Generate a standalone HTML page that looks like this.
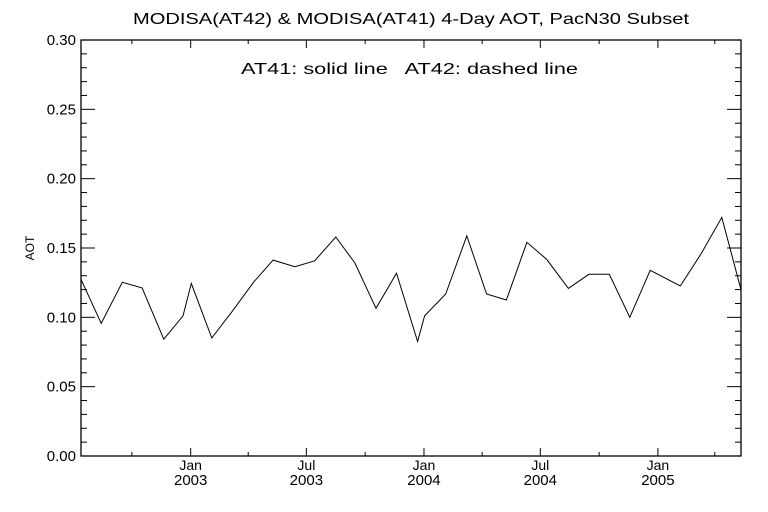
<!DOCTYPE html>
<html><head><meta charset="utf-8"><style>
body{margin:0;background:#fff;}
svg{display:block;font-family:"Liberation Sans",sans-serif;}
</style></head><body>
<svg id="chart" width="768" height="512" viewBox="0 0 768 512">
<rect width="768" height="512" fill="#fff"/>
<text x="133" y="24" font-size="16" textLength="556" lengthAdjust="spacingAndGlyphs">MODISA(AT42) &amp; MODISA(AT41) 4-Day AOT, PacN30 Subset</text>
<text x="241" y="74" font-size="16" textLength="337" lengthAdjust="spacingAndGlyphs" xml:space="preserve">AT41: solid line   AT42: dashed line</text>
<text transform="translate(34,248) rotate(-90)" font-size="12" text-anchor="middle">AOT</text>
<g id="axes"></g>
<g id="series"></g>
</svg>
<script>
const yTicks=[0,0.05,0.10,0.15,0.20,0.25,0.30];
const yTickLabels=["0.00","0.05","0.10","0.15","0.20","0.25","0.30"];
const xTickDays=[0,181,365,547,731];
const xTickMonths=["Jan","Jul","Jan","Jul","Jan"];
const xTickYears=["2003","2003","2004","2004","2005"];
const xMinorDays=[-92,90,273,456,639,820];
const days=[-171.6,-140,-107,-76,-42,-12,1,33,66,99,129,163,194,227,257,290,322,355,366,399,432,463,494,526,557,591,623,655,687,719,766,799,831,861];
const at41=[0.1274,0.0957,0.1253,0.1212,0.0842,0.1010,0.1245,0.0851,0.105,0.1257,0.1413,0.1365,0.1408,0.1579,0.1392,0.1065,0.1318,0.0826,0.1010,0.1168,0.1587,0.1168,0.1125,0.1541,0.1418,0.1209,0.1310,0.1310,0.1000,0.1339,0.1226,0.1462,0.1721,0.120];
const L=81,R=741,T=40,B=456,D0=-171.6,D1=861;
const sx=d=>L+(d-D0)/(D1-D0)*(R-L);
const sy=v=>B-v/0.3*(B-T);
const NS="http://www.w3.org/2000/svg";
const ax=document.getElementById('axes');
function mk(tag,attrs,parent){const e=document.createElementNS(NS,tag);for(const k in attrs)e.setAttribute(k,attrs[k]);parent.appendChild(e);return e;}
const frame=mk('rect',{x:L,y:T,width:R-L,height:B-T,fill:'none',stroke:'#000','stroke-width':1.3},ax);


for(let i=0;i<=30;i++){
  const v=i/100,y=sy(v),len=(i%5===0)?14:6;
  mk('line',{x1:L,y1:y,x2:L+len,y2:y,stroke:'#000'},ax);
  mk('line',{x1:R,y1:y,x2:R-len,y2:y,stroke:'#000'},ax);
}
yTicks.forEach((v,i)=>{
  const t=mk('text',{x:76,y:sy(v)+5,'font-size':15,'text-anchor':'end'},ax);
  t.textContent=yTickLabels[i];
  
  
});
xTickDays.forEach((d,i)=>{
  const x=sx(d);
  mk('line',{x1:x,y1:B,x2:x,y2:B-8,stroke:'#000'},ax);
  mk('line',{x1:x,y1:T,x2:x,y2:T+8,stroke:'#000'},ax);
  const t1=mk('text',{x:x,y:470,'font-size':14,'text-anchor':'middle'},ax);
  t1.textContent=xTickMonths[i];
  
  
  const t2=mk('text',{x:x,y:485,'font-size':15,'text-anchor':'middle'},ax);
  t2.textContent=xTickYears[i];
  
  
});
xMinorDays.forEach(d=>{
  const x=sx(d);
  if(x<=L||x>=R)return;
  mk('line',{x1:x,y1:B,x2:x,y2:B-4,stroke:'#000'},ax);
  mk('line',{x1:x,y1:T,x2:x,y2:T+4,stroke:'#000'},ax);
});
const pts=days.map((d,i)=>sx(d).toFixed(1)+','+sy(at41[i]).toFixed(1)).join(' ');
const line=mk('polyline',{points:pts,fill:'none',stroke:'#000','stroke-width':1},document.getElementById('series'));


</script>
</body></html>
